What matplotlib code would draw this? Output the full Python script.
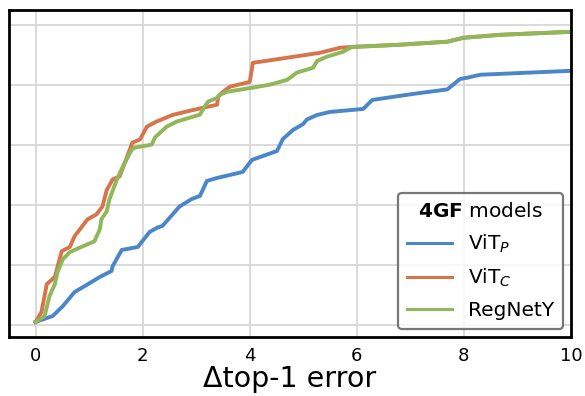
"""Recreate the 4GF models CDF chart of delta top-1 error."""

import matplotlib
matplotlib.use('Agg')
import matplotlib.pyplot as plt
import numpy as np

# ── Data (x: Δtop-1 error, y: cumulative fraction) ────
vitp_x = [0.0, 0.32, 0.51, 0.73, 0.95, 1.20, 1.42, 1.44, 1.61, 1.91, 2.13, 2.28,
          2.37, 2.69, 2.92, 3.07, 3.20, 3.39, 3.87, 4.04, 4.51, 4.62, 4.81, 5.00,
          5.07, 5.26, 5.50, 6.12, 6.29, 7.05, 7.69, 7.93, 8.06, 8.31, 10.0]
vitp_y = [0.01, 0.03, 0.063, 0.11, 0.133, 0.16, 0.18, 0.196, 0.25, 0.26, 0.31, 0.325,
          0.33, 0.395, 0.42, 0.43, 0.48, 0.49, 0.51, 0.55, 0.58, 0.62, 0.65, 0.67,
          0.685, 0.70, 0.71, 0.72, 0.75, 0.77, 0.785, 0.82, 0.824, 0.834, 0.847]

vitc_x = [0.0, 0.11, 0.21, 0.36, 0.49, 0.64, 0.73, 0.97, 1.14, 1.25, 1.33, 1.44,
          1.57, 1.81, 1.95, 2.08, 2.26, 2.56, 2.88, 3.39, 3.41, 3.50, 3.63, 4.00,
          4.06, 4.19, 5.31, 5.69, 5.93, 6.81, 7.69, 7.99, 8.68, 10.0]
vitc_y = [0.01, 0.043, 0.136, 0.16, 0.246, 0.26, 0.296, 0.352, 0.369, 0.395, 0.45, 0.485,
          0.495, 0.608, 0.618, 0.661, 0.678, 0.70, 0.714, 0.734, 0.76, 0.777, 0.794, 0.81,
          0.874, 0.877, 0.907, 0.924, 0.927, 0.934, 0.944, 0.957, 0.967, 0.977]

regnet_x = [0.0, 0.17, 0.26, 0.36, 0.41, 0.51, 0.64, 0.88, 1.10, 1.20, 1.23, 1.33,
            1.38, 1.52, 1.63, 1.80, 1.85, 2.17, 2.23, 2.45, 2.64, 3.07, 3.16, 3.22,
            3.39, 3.44, 3.57, 4.06, 4.38, 4.70, 4.88, 5.18, 5.26, 5.44, 5.74, 5.90,
            6.81, 7.69, 7.99, 8.68, 10.0]
regnet_y = [0.01, 0.03, 0.096, 0.136, 0.176, 0.219, 0.243, 0.262, 0.279, 0.319, 0.352, 0.379,
            0.419, 0.485, 0.528, 0.585, 0.591, 0.601, 0.625, 0.661, 0.678, 0.701, 0.728, 0.744,
            0.757, 0.767, 0.777, 0.791, 0.801, 0.817, 0.841, 0.857, 0.880, 0.894, 0.910, 0.926,
            0.934, 0.944, 0.957, 0.967, 0.977]

x_ticks = [0, 2, 4, 6, 8, 10]
y_ticks = [0.0, 0.2, 0.4, 0.6, 0.8, 1.0]

fig = plt.figure(figsize=(5.85, 3.96), dpi=100)
ax = fig.add_axes([0.015, 0.149, 0.961, 0.826])

ax.plot(vitp_x, vitp_y, color='#4b87c8', lw=2.8, label=r'ViT$_P$')
ax.plot(vitc_x, vitc_y, color='#d8744c', lw=2.8, label=r'ViT$_C$')
ax.plot(regnet_x, regnet_y, color='#90b75a', lw=2.8, label='RegNetY')

ax.set_xlim(-0.5, 10)
ax.set_ylim(-0.04, 1.05)
ax.set_xticks(x_ticks)
ax.set_yticks(y_ticks)
ax.set_yticklabels([])
ax.tick_params(length=0, labelsize=13, pad=7)
ax.grid(True, color='#d8d8d8', lw=1.3)
ax.set_axisbelow(True)
for sp in ax.spines.values():
    sp.set_linewidth(2.0)
    sp.set_color('black')

ax.set_xlabel('Δtop-1 error', fontsize=20.5, labelpad=0)

leg = ax.legend(title=r'$\bf{4GF}$ models', fontsize=14.5, title_fontsize=14.5,
                loc='lower right', frameon=True, fancybox=True,
                handlelength=2.2, borderaxespad=0.4, labelspacing=0.58,
                borderpad=0.45, handletextpad=0.8)
leg.get_frame().set_edgecolor('#555555')
leg.get_frame().set_linewidth(1.6)
for h in leg.get_lines():
    h.set_linewidth(2.2)

fig.savefig('out.png', dpi=100)
